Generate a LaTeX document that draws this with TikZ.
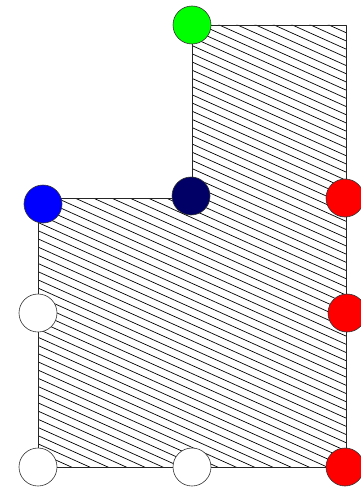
\documentclass[tikz,border=0pt]{standalone}
\usepackage{tikz}
\usetikzlibrary{calc}

\definecolor{navyc}{RGB}{0,0,102}
\tikzset{
  pin/.style={circle,draw=black!80,line width=0.6pt,minimum size=38pt,inner sep=0pt},
  hatch/.style={line width=0.7pt,black}
}

\begin{document}
\begin{tikzpicture}[line cap=round,line join=round,x=1pt,y=-1pt]
                \useasboundingbox (0,0) rectangle (361,487);
                % outline of the plate
                \coordinate (p1) at (192,25);
                \coordinate (p2) at (346,25);
                \coordinate (p3) at (346,467);
                \coordinate (p4) at (38,467);
                \coordinate (p5) at (38,198);
                \coordinate (p6) at (192,198);
                \begin{scope}
                    \clip (p1)--(p2)--(p3)--(p4)--(p5)--(p6)--cycle;
                    \foreach \c in {-180,-171.8,...,480}
                        \draw [hatch] (0,\c)-- (361,\c+162);
                \end{scope}
                \draw [line width=0.7pt,black!85] (p1)--(p2)--(p3)--(p4)--(p5)--(p6)--cycle;
                % corner markers
                \node[pin,fill=green] (top) at (192,25) {};
                \node[pin,fill=navyc] (inner) at (191,196) {};
                \node[pin,fill=blue] (left) at (43,204) {};
                \node[pin,fill=red] (rtop) at (345,198) {};
                \node[pin,fill=red] (rmid) at (347,313) {};
                \node[pin,fill=red] (rbot) at (345,467) {};
                \node[pin,fill=white] (lmid) at (38,313) {};
                \node[pin,fill=white] (lbot) at (38,467) {};
                \node[pin,fill=white] (bmid) at (192,467) {};
            \end{tikzpicture}
\end{document}
